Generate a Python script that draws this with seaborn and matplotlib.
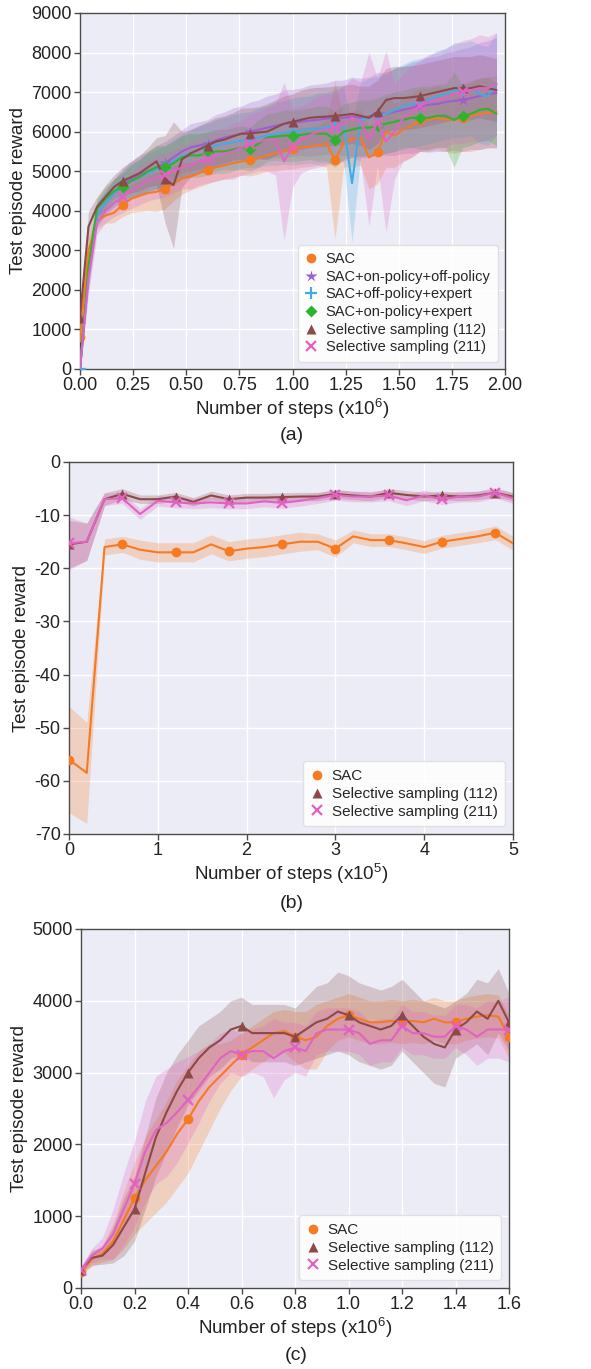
import numpy as np
import matplotlib
matplotlib.use("Agg")
import matplotlib.pyplot as plt
from matplotlib.lines import Line2D
import seaborn as sns

# ---------------- Panel (a) data ----------------
xa = [0.00, 0.04, 0.08, 0.12, 0.16, 0.20, 0.24, 0.28, 0.32, 0.36, 0.40, 0.44, 0.48, 0.52, 0.56,
      0.60, 0.64, 0.68, 0.72, 0.76, 0.80, 0.84, 0.88, 0.92, 0.96, 1.00, 1.04, 1.08, 1.12, 1.16,
      1.20, 1.24, 1.28, 1.32, 1.36, 1.40, 1.44, 1.48, 1.52, 1.56, 1.60, 1.64, 1.68, 1.72, 1.76,
      1.80, 1.84, 1.88, 1.92, 1.96]
a_sac = [800, 3000, 3750, 3880, 3950, 4150, 4300, 4380, 4450, 4480, 4550, 4700, 4820, 4870, 4950,
         5030, 5100, 5150, 5200, 5250, 5280, 5330, 5400, 5450, 5500, 5550, 5600, 5620, 5650, 5700,
         5280, 5700, 5820, 5850, 5350, 5480, 6000, 5900, 6050, 6150, 6300, 6300, 6350, 6300, 6300,
         6350, 6400, 6450, 6480, 6500]
a_sac_sd = [300, 300, 200, 200, 250, 300, 350, 400, 450, 500, 500, 450, 400, 350, 350,
            350, 350, 350, 350, 350, 400, 400, 400, 450, 450, 500, 500, 500, 500, 600,
            2000, 600, 700, 700, 800, 800, 900, 800, 800, 800, 800, 800, 800, 800, 850,
            850, 900, 900, 900, 900]
a_onoff = [0, 2500, 3900, 4200, 4450, 4650, 4800, 4900, 5000, 5100, 5200, 5350, 5500, 5600, 5650,
           5700, 5780, 5850, 5900, 5950, 6000, 6050, 6100, 6150, 6200, 6220, 6250, 6280, 6300, 6330,
           6350, 6350, 6380, 6350, 6380, 6450, 6450, 6500, 6550, 6600, 6650, 6680, 6700, 6750, 6780,
           6800, 6850, 6900, 6950, 6980]
a_onoff_sd = [100, 400, 300, 300, 350, 400, 450, 500, 500, 550, 550, 550, 550, 600, 600,
              600, 650, 650, 700, 700, 750, 750, 800, 800, 850, 850, 850, 900, 900, 900,
              950, 950, 1000, 1000, 1000, 1050, 1050, 1100, 1100, 1150, 1150, 1200, 1200, 1250, 1250,
              1300, 1300, 1350, 1350, 1400]
a_offexp = [0, 2400, 3900, 4200, 4450, 4600, 4750, 4850, 4950, 5050, 5100, 5250, 5380, 5450, 5550,
            5600, 5650, 5700, 5730, 5780, 5800, 5850, 5900, 5950, 5980, 6000, 6030, 6050, 6080, 6100,
            6150, 6200, 4700, 6300, 6350, 6400, 6450, 6550, 6650, 6700, 6750, 6800, 6900, 6950, 7050,
            7050, 7100, 6950, 6900, 7200]
a_offexp_sd = [100, 400, 300, 300, 350, 400, 450, 450, 500, 500, 550, 550, 550, 600, 600,
               600, 650, 650, 700, 700, 700, 750, 750, 800, 800, 850, 850, 850, 900, 900,
               900, 950, 1500, 950, 1000, 1000, 1000, 1050, 1050, 1100, 1100, 1100, 1150, 1150, 1200,
               1200, 1200, 1250, 1250, 1300]
a_onexp = [0, 2600, 4050, 4300, 4500, 4600, 4750, 4850, 5000, 5100, 5100, 5200, 5350, 5400, 5400,
           5450, 5500, 5500, 5550, 5600, 5550, 5700, 5850, 5880, 5900, 5900, 5920, 5950, 5950, 5950,
           5800, 6000, 6050, 6100, 6100, 6150, 6200, 6250, 6300, 6350, 6350, 6350, 6400, 6400, 6300,
           6400, 6450, 6550, 6580, 6450]
a_onexp_sd = [100, 400, 250, 300, 300, 350, 400, 450, 500, 550, 550, 550, 550, 550, 550,
              550, 550, 550, 550, 550, 550, 600, 600, 600, 650, 650, 650, 650, 700, 700,
              700, 700, 700, 700, 700, 700, 750, 750, 750, 750, 800, 800, 800, 800, 1200,
              800, 800, 800, 800, 800]
a_s112 = [1300, 3600, 4100, 4350, 4600, 4750, 4850, 4950, 5100, 5250, 4800, 4650, 5300, 5450, 5550,
          5650, 5750, 5800, 5880, 5950, 5950, 5980, 6000, 6100, 6200, 6250, 6300, 6350, 6370, 6380,
          6400, 6420, 6450, 6400, 6350, 6500, 6800, 6850, 6850, 6870, 6900, 6950, 7000, 7050, 7100,
          7100, 7100, 7150, 7100, 7050]
a_s112_sd = [300, 400, 250, 300, 300, 350, 400, 450, 500, 600, 1100, 1600, 700, 600, 600,
             600, 600, 600, 600, 650, 650, 650, 700, 700, 700, 700, 750, 750, 750, 750,
             750, 750, 750, 750, 800, 800, 800, 800, 800, 800, 800, 800, 800, 800, 800,
             800, 800, 800, 800, 800]
a_s211 = [0, 2300, 3700, 4000, 4200, 4350, 4500, 4650, 4750, 4850, 4900, 5000, 5100, 5150, 5250,
          5300, 5400, 5450, 5500, 5600, 5700, 5750, 5800, 5800, 5250, 5600, 5800, 5900, 6000, 6050,
          6100, 6200, 6350, 6250, 5800, 6250, 5750, 6000, 6350, 6500, 6650, 6750, 6800, 6850, 6950,
          7000, 7050, 7100, 7100, 7200]
a_s211_sd = [100, 400, 300, 300, 350, 400, 450, 500, 500, 550, 550, 550, 550, 600, 600,
             600, 650, 650, 700, 700, 750, 750, 800, 900, 2000, 1000, 850, 850, 900, 900,
             900, 950, 1000, 1000, 2200, 1100, 2300, 1200, 1100, 1150, 1150, 1200, 1200, 1250, 1250,
             1300, 1300, 1350, 1300, 1300]

# ---------------- Panel (b) data ----------------
xb = [0.0, 0.2, 0.4, 0.6, 0.8, 1.0, 1.2, 1.4, 1.6, 1.8, 2.0, 2.2, 2.4, 2.6, 2.8, 3.0, 3.2, 3.4,
      3.6, 3.8, 4.0, 4.2, 4.4, 4.6, 4.8, 5.0]
b_sac = [-56, -58.5, -16, -15.5, -16.5, -17, -17, -17, -15.5, -16.8, -16.3, -16, -15.5, -15, -15,
         -16.3, -14, -14.7, -14.7, -15.3, -16, -15, -14.5, -14, -13.3, -15.3]
b_sac_sd = [10, 9.5, 1.5, 1.5, 1.8, 1.8, 1.8, 1.8, 1.8, 1.8, 1.8, 1.8, 1.8, 1.8, 1.5, 1.6, 1.2,
            1.2, 1.2, 1.2, 1.2, 1.2, 1.2, 1.2, 1.3, 1.3]
b_s112 = [-15.5, -15, -7, -6, -7, -7, -6.5, -7.5, -6.3, -7, -6.7, -6.7, -6.6, -6.5, -6.5, -6,
          -6.3, -6.5, -5.8, -6.2, -6.5, -6.3, -6.5, -6.3, -5.8, -6.5]
b_s112_sd = [4.5, 3.5, 1.2, 1.0, 0.8, 0.8, 0.8, 0.8, 0.8, 0.8, 0.8, 0.8, 0.8, 0.8, 0.8, 0.8,
             0.8, 0.8, 0.8, 0.8, 0.8, 0.8, 0.8, 0.8, 0.8, 0.8]
b_s211 = [-15.3, -15, -7, -6.8, -9.8, -7.3, -7.6, -7.8, -7.6, -7.8, -7.8, -7.4, -7.7, -7.3, -6.8,
          -6.2, -6.5, -6.5, -6.3, -7.2, -6.3, -7, -6.5, -6.5, -5.8, -6.8]
b_s211_sd = [5, 3.5, 1.2, 1.0, 1.0, 1.0, 1.0, 1.0, 1.0, 1.0, 1.0, 1.0, 1.0, 1.0, 1.0, 1.0,
             1.0, 1.0, 1.0, 1.0, 1.0, 1.0, 1.0, 1.0, 1.0, 1.0]

# ---------------- Panel (c) data ----------------
xc = [0.00, 0.04, 0.08, 0.12, 0.16, 0.20, 0.24, 0.28, 0.32, 0.36, 0.40, 0.44, 0.48, 0.52, 0.56,
      0.60, 0.64, 0.68, 0.72, 0.76, 0.80, 0.84, 0.88, 0.92, 0.96, 1.00, 1.04, 1.08, 1.12, 1.16,
      1.20, 1.24, 1.28, 1.32, 1.36, 1.40, 1.44, 1.48, 1.52, 1.56, 1.60]
c_sac = [220, 400, 480, 650, 950, 1250, 1500, 1700, 1900, 2150, 2350, 2600, 2800, 2950, 3100,
         3250, 3350, 3450, 3550, 3580, 3500, 3450, 3500, 3650, 3750, 3800, 3750, 3700, 3700, 3720,
         3700, 3720, 3700, 3750, 3700, 3700, 3750, 3780, 3800, 3780, 3500]
c_sac_sd = [50, 100, 120, 250, 400, 500, 600, 650, 700, 750, 750, 700, 600, 450, 350,
            300, 300, 300, 300, 300, 350, 400, 450, 350, 300, 300, 300, 300, 300, 300,
            300, 300, 300, 300, 300, 300, 300, 300, 300, 300, 300]
c_s112 = [250, 420, 450, 600, 850, 1100, 1600, 2100, 2450, 2750, 3000, 3200, 3350, 3450, 3600,
          3650, 3550, 3550, 3550, 3550, 3500, 3600, 3700, 3750, 3850, 3800, 3700, 3650, 3600, 3650,
          3800, 3650, 3500, 3400, 3350, 3600, 3700, 3850, 3750, 4000, 3700]
c_s112_sd = [50, 100, 120, 250, 400, 450, 500, 550, 550, 500, 450, 450, 400, 400, 400,
             400, 400, 400, 400, 400, 400, 450, 500, 500, 550, 550, 550, 550, 550, 550,
             500, 500, 500, 550, 550, 400, 400, 450, 500, 450, 400]
c_s211 = [250, 450, 550, 750, 1100, 1450, 1900, 2200, 2300, 2450, 2620, 2800, 3000, 3200, 3300,
          3250, 3300, 3300, 3200, 3300, 3350, 3300, 3550, 3600, 3600, 3600, 3550, 3400, 3450, 3450,
          3650, 3550, 3550, 3500, 3500, 3650, 3600, 3500, 3600, 3600, 3600]
c_s211_sd = [50, 100, 150, 350, 500, 600, 700, 750, 750, 700, 600, 500, 400, 350, 300,
             300, 300, 350, 550, 400, 350, 350, 300, 300, 300, 300, 300, 300, 300, 300,
             300, 300, 300, 300, 300, 300, 350, 400, 400, 400, 450]

labels_a = ["SAC", "SAC+on-policy+off-policy", "SAC+off-policy+expert",
            "SAC+on-policy+expert", "Selective sampling (112)", "Selective sampling (211)"]
labels_bc = ["SAC", "Selective sampling (112)", "Selective sampling (211)"]

# ---------------- style ----------------
sns.set_theme(style="darkgrid")
plt.rcParams["font.family"] = ["Liberation Sans", "DejaVu Sans"]
plt.rcParams["mathtext.fontset"] = "custom"
plt.rcParams["mathtext.rm"] = "Liberation Sans"
plt.rcParams["mathtext.it"] = "Liberation Sans"

COL = {
    "SAC": "#F57A20",
    "SAC+on-policy+off-policy": "#9C5FD0",
    "SAC+off-policy+expert": "#45AAE2",
    "SAC+on-policy+expert": "#2DB32D",
    "Selective sampling (112)": "#8B4A47",
    "Selective sampling (211)": "#E262C4",
}
MK = {
    "SAC": ("o", 7, 1.0),
    "SAC+on-policy+off-policy": ("*", 9, 1.0),
    "SAC+off-policy+expert": ("+", 9, 1.6),
    "SAC+on-policy+expert": ("D", 6, 1.0),
    "Selective sampling (112)": ("^", 7, 1.0),
    "Selective sampling (211)": ("x", 7, 1.6),
}

fig = plt.figure(figsize=(5.91, 13.69), dpi=100)
ax_a = fig.add_axes([80 / 591, 1 - 369 / 1369, 425 / 591, 356 / 1369])
ax_b = fig.add_axes([69 / 591, 1 - 834 / 1369, 444 / 591, 372 / 1369])
ax_c = fig.add_axes([81 / 591, 1 - 1288 / 1369, 428 / 591, 359 / 1369])


def draw(ax, x, series, every, offsets):
    x = np.asarray(x, dtype=float)
    for (name, y, sd) in series:
        y = np.asarray(y, dtype=float)
        sd = np.asarray(sd, dtype=float)
        ax.fill_between(x, y - sd, y + sd, color=COL[name], alpha=0.25, lw=0, zorder=1)
    for (name, y, sd) in series:
        m, ms, mew = MK[name]
        sns.lineplot(x=x, y=np.asarray(y, dtype=float), ax=ax, color=COL[name], lw=1.5,
                     marker=m, markersize=ms, markeredgewidth=mew,
                     markeredgecolor=COL[name] if m in ("+", "x") else "none",
                     markevery=(offsets[name], every), errorbar=None, zorder=3)


def style(ax, xlim, ylim, xticks, yticks, xfmt, xlabel, handles_names, legend_fs, leg_loc):
    ax.set_facecolor("#ECECF6")
    ax.set_xlim(*xlim)
    ax.set_ylim(*ylim)
    ax.set_xticks(xticks)
    ax.set_yticks(yticks)
    ax.set_xticklabels([xfmt.format(v) for v in xticks])
    ax.set_yticklabels([str(v) for v in yticks])
    ax.grid(True, color="white", lw=1.0)
    for s in ax.spines.values():
        s.set_visible(True)
        s.set_color("#4a4a4a")
        s.set_linewidth(1.0)
    ax.tick_params(axis="both", which="both", bottom=True, left=True, length=4, width=1,
                   color="#4a4a4a", labelsize=13, pad=2, labelcolor="#222222")
    ax.set_xlabel(xlabel, fontsize=13.5, color="#222222", labelpad=2)
    ax.set_ylabel("Test episode reward", fontsize=13.5, color="#222222", labelpad=3)
    handles = []
    for n in handles_names:
        m, ms, mew = MK[n]
        handles.append(Line2D([], [], linestyle="none", marker=m, markersize=ms,
                              markeredgewidth=mew, color=COL[n],
                              markeredgecolor=COL[n] if m in ("+", "x") else "none"))
    ax.legend(handles, handles_names, loc=leg_loc, fontsize=legend_fs, frameon=True,
              facecolor="white", framealpha=0.85, edgecolor="#dddddd", handlelength=0.8,
              handletextpad=0.6, borderpad=0.5, labelspacing=0.25)


# panel (a)
draw(ax_a, xa, [
    ("SAC", a_sac, a_sac_sd),
    ("SAC+on-policy+off-policy", a_onoff, a_onoff_sd),
    ("SAC+off-policy+expert", a_offexp, a_offexp_sd),
    ("SAC+on-policy+expert", a_onexp, a_onexp_sd),
    ("Selective sampling (112)", a_s112, a_s112_sd),
    ("Selective sampling (211)", a_s211, a_s211_sd),
], 5, {"SAC": 0, "SAC+on-policy+off-policy": 5, "SAC+off-policy+expert": 0,
       "SAC+on-policy+expert": 5, "Selective sampling (112)": 0, "Selective sampling (211)": 5})
style(ax_a, (0, 2.0), (0, 9000), [0, 0.25, 0.5, 0.75, 1.0, 1.25, 1.5, 1.75, 2.0],
      list(range(0, 9001, 1000)), "{:.2f}", "Number of steps (x10$^{6}$)", labels_a, 10.5,
      "lower right")

# panel (b)
draw(ax_b, xb, [
    ("SAC", b_sac, b_sac_sd),
    ("Selective sampling (112)", b_s112, b_s112_sd),
    ("Selective sampling (211)", b_s211, b_s211_sd),
], 3, {"SAC": 0, "Selective sampling (112)": 0, "Selective sampling (211)": 0})
style(ax_b, (0, 5), (-70, 0), [0, 1, 2, 3, 4, 5], list(range(-70, 1, 10)), "{:.0f}",
      "Number of steps (x10$^{5}$)", labels_bc, 11, "lower right")

# panel (c)
draw(ax_c, xc, [
    ("SAC", c_sac, c_sac_sd),
    ("Selective sampling (112)", c_s112, c_s112_sd),
    ("Selective sampling (211)", c_s211, c_s211_sd),
], 5, {"SAC": 0, "Selective sampling (112)": 0, "Selective sampling (211)": 0})
style(ax_c, (0, 1.6), (0, 5000), [0, 0.2, 0.4, 0.6, 0.8, 1.0, 1.2, 1.4, 1.6],
      list(range(0, 5001, 1000)), "{:.1f}", "Number of steps (x10$^{6}$)", labels_bc, 11,
      "lower right")

fig.text(292 / 591, 1 - 435 / 1369, "(a)", ha="center", va="center", fontsize=14, color="#222222")
fig.text(292 / 591, 1 - 903 / 1369, "(b)", ha="center", va="center", fontsize=14, color="#222222")
fig.text(296 / 591, 1 - 1355 / 1369, "(c)", ha="center", va="center", fontsize=14, color="#222222")

fig.savefig("out.png", dpi=100)
